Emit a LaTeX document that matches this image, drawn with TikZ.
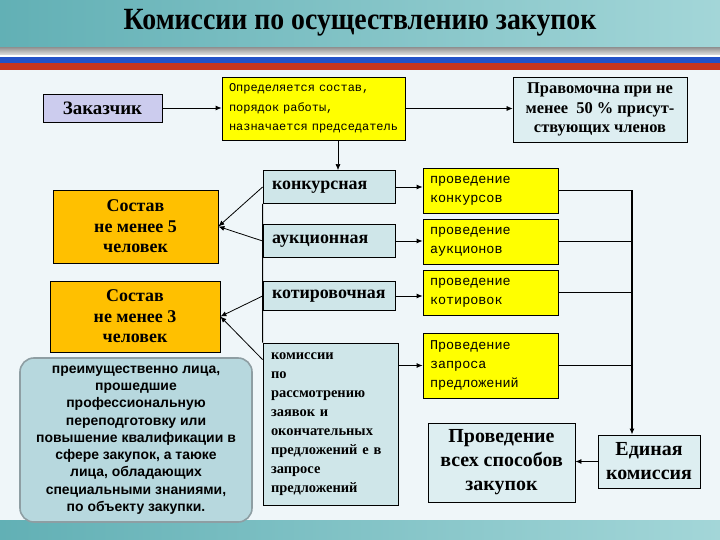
\documentclass[tikz,border=0pt]{standalone}
\usepackage{fontspec}
\setmainfont{Liberation Serif}
\setsansfont{Liberation Sans}
\setmonofont{Liberation Mono}
\usetikzlibrary{
  arrows.meta,
  positioning,
  calc
}
\definecolor{kmHeadA}{HTML}{62B0B5}
\definecolor{kmHeadB}{HTML}{A3D6D8}
\definecolor{kmBody}{HTML}{EFF6F9}
\definecolor{kmBlue}{HTML}{CFE6E9}
\definecolor{kmPale}{HTML}{DDEEF1}
\definecolor{kmLav}{HTML}{CCCCEE}
\definecolor{kmYellow}{HTML}{FFFF00}
\definecolor{kmOrange}{HTML}{FFC000}
\definecolor{kmRound}{HTML}{B7D8DE}
\definecolor{kmGrey}{HTML}{8E9EA3}
\definecolor{kmFlagB}{HTML}{2352C8}
\definecolor{kmFlagR}{HTML}{C8361F}
\tikzset{
  kmnode/.style={
    draw, line width=0.8pt, inner sep=0pt, align=center,
    font=\bfseries\fontsize{18}{20.5}\selectfont
  },
  kmblue/.style={kmnode, fill=kmBlue},
  kmpale/.style={kmnode, fill=kmPale},
  kmlav/.style={kmnode, fill=kmLav},
  kmorange/.style={kmnode, fill=kmOrange},
  kmleft/.style={kmblue, align=left, inner xsep=9bp},
  kmyel/.style={
    kmnode, fill=kmYellow, align=left, inner xsep=7bp,
    font=\ttfamily\fontsize{13.5}{19}\selectfont
  },
  kmround/.style={
    draw=kmGrey, line width=1.6pt, fill=kmRound, rounded corners=14bp,
    align=center, inner sep=0pt,
    font=\sffamily\bfseries\fontsize{14}{17.3}\selectfont
  },
  kmarrow/.style={-{Latex[length=6bp,width=5bp]}, semithick},
  kmbus/.style={line width=1.6pt}
}
\begin{document}
\begin{tikzpicture}[x=1bp, y=-1bp]
  % background and header
  \useasboundingbox (0,0) rectangle (720,540);
  \fill[kmBody] (0,0) rectangle (720,540);
  \shade[left color=kmHeadA, right color=kmHeadB] (0,0) rectangle (720,48);
  \shade[top color=black!40, bottom color=black!12] (0,48) rectangle (720,55);
  \fill[white] (0,55) rectangle (720,57);
  \fill[kmFlagB] (0,57) rectangle (720,63);
  \fill[kmFlagR] (0,63) rectangle (720,70);
  \shade[left color=kmHeadA, right color=kmHeadB] (0,520) rectangle (720,540);
  \node[font=\bfseries\fontsize{31}{31}\selectfont] (title) at (360,23) {\scalebox{0.9}[1]{Комиссии по осуществлению закупок}};

  % top row
  \node[kmlav, minimum width=119bp, minimum height=28bp, font=\bfseries\fontsize{19}{19}\selectfont] (zak) at (102.5,108) {Заказчик};
  \node[kmyel, text width=169bp, minimum height=63bp, font=\ttfamily\fontsize{12}{19.5}\selectfont] (opr) at (313.5,108.5) {Определяется состав,\\порядок работы,\\назначается председатель};
  \node[kmpale, minimum width=174bp, minimum height=65bp, font=\bfseries\fontsize{16.5}{19.5}\selectfont] (prav) at (600,109.5) {Правомочна при не\\менее\ \ 50 \% присут-\\ствующих членов};

  % left column
  \node[kmorange, minimum width=165bp, minimum height=73bp] (s5) at (135.5,226.5) {Состав\\не менее 5\\человек};
  \node[kmorange, minimum width=170bp, minimum height=71bp] (s3) at (135,316.5) {Состав\\не менее 3\\человек};
  \node[kmround, minimum width=232bp, minimum height=164bp] (pre) at (136,440) {преимущественно лица,\\прошедшие\\профессиональную\\переподготовку или\\повышение квалификации в\\сфере закупок, а таюке\\лица, обладающих\\специальными знаниями,\\по объекту закупки.};

  % middle column
  \node[kmleft, text width=114bp, minimum height=33bp] (kon) at (329,187) {конкурсная};
  \node[kmleft, text width=114bp, minimum height=33bp] (auk) at (329,241) {аукционная};
  \node[kmleft, text width=114bp, minimum height=29bp] (kot) at (329,296) {котировочная};
  \node[kmleft, inner xsep=8bp, text width=119bp, minimum height=162bp, font=\bfseries\fontsize{14.5}{19}\selectfont] (kom) at (330.5,424) {комиссии\\по\\рассмотрению\\заявок и\\окончательных\\предложений е в\\запросе\\предложений};

  % right column
  \node[kmyel, text width=121bp, minimum height=45bp] (pk) at (490.5,190.5) {проведение\\конкурсов};
  \node[kmyel, text width=121bp, minimum height=45bp] (pa) at (490.5,241.5) {проведение\\аукционов};
  \node[kmyel, text width=121bp, minimum height=45bp] (pkt) at (490.5,292.5) {проведение\\котировок};
  \node[kmyel, text width=121bp, minimum height=65bp] (pz) at (490.5,365.5) {Проведение\\запроса\\предложений};
  \node[kmpale, minimum width=147bp, minimum height=79bp, font=\bfseries\fontsize{20}{24}\selectfont] (all) at (501.5,462.5) {Проведение\\всех способов\\закупок};
  \node[kmpale, minimum width=102bp, minimum height=53bp, font=\bfseries\fontsize{20}{24}\selectfont] (ed) at (649,461.5) {Единая\\комиссия};

  % connectors
  \coordinate (drop) at (338,0);
  \coordinate (bus) at (632,0);
  \draw[kmarrow, thick] (zak.east) -- (zak.east -| opr.west);
  \draw[kmarrow] (opr.east) -- (opr.east -| prav.west);
  \draw[kmarrow] (opr.south -| drop) -- (kon.north -| drop);
  \foreach \n in {kon,auk}{\draw[kmarrow, thick] (\n.west) -- (s5.east);}
  \draw[kmarrow, thick] (kot.west) -- (s3.east);
  \draw[kmarrow, thick] ($(kom.north west)+(0,17)$) -- (s3.east);
  \draw[thick] (kon.south west) -- (kom.north west);
  \foreach \a/\b in {kon/pk,auk/pa,kot/pkt}{\draw[kmarrow, thick] (\a.east) -- (\a.east -| \b.west);}
  \draw[kmarrow, thick] (kom.east |- pz.west) -- (pz.west);
  \foreach \n in {pk,pa,pkt,pz}{\draw[semithick] (\n.east) -- (\n.east -| bus);}
  \draw[kmarrow, kmbus] (pk.east -| bus) -- (ed.north -| bus);
  \draw[kmarrow, thick] (ed.west) -- (ed.west -| all.east);
\end{tikzpicture}
\end{document}
